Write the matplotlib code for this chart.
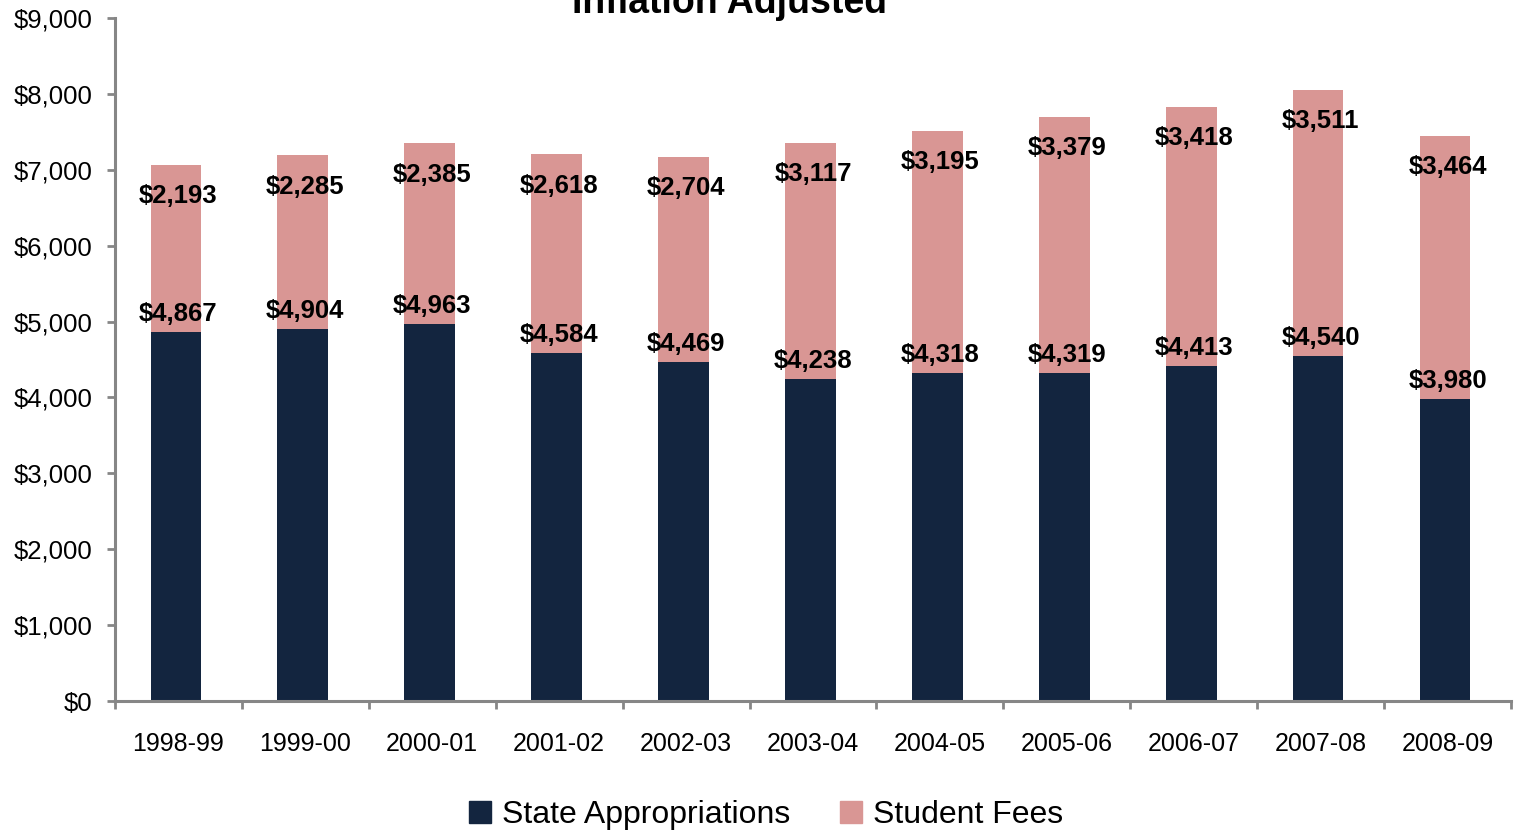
import matplotlib
matplotlib.use("Agg")
import matplotlib.pyplot as plt
from matplotlib.patches import Patch
import numpy as np

years = ["1998-99", "1999-00", "2000-01", "2001-02", "2002-03", "2003-04",
         "2004-05", "2005-06", "2006-07", "2007-08", "2008-09"]
state_appropriations = [4867, 4904, 4963, 4584, 4469, 4238, 4318, 4319, 4413, 4540, 3980]
student_fees = [2193, 2285, 2385, 2618, 2704, 3117, 3195, 3379, 3418, 3511, 3464]
yticks = [0, 1000, 2000, 3000, 4000, 5000, 6000, 7000, 8000, 9000]

navy = "#13253F"
pink = "#D99694"
grey = "#868686"

plt.rcParams['font.family'] = ['Liberation Sans', 'DejaVu Sans']

fig = plt.figure(figsize=(15.17, 8.30), dpi=100)
ax = fig.add_axes([115/1517, 1 - 701/830, (1511 - 115)/1517, (701 - 18)/830])

x = np.arange(len(years))
w = 0.4
ax.bar(x - 0.02, state_appropriations, w, color=navy, label="State Appropriations")
ax.bar(x - 0.02, student_fees, w, bottom=state_appropriations, color=pink, label="Student Fees")

for xi, s, f in zip(x, state_appropriations, student_fees):
    ax.annotate(f"${s:,}", (xi, s), xytext=(0, 13), textcoords="offset points",
                ha="center", va="center", fontsize=18.5, fontweight="bold")
    ax.annotate(f"${f:,}", (xi, s + f), xytext=(0, -22.5), textcoords="offset points",
                ha="center", va="center", fontsize=18.5, fontweight="bold")

ax.set_xlim(-0.5, len(years) - 0.5)
ax.set_ylim(0, 9000)
ax.set_yticks(yticks)
ax.set_yticklabels([f"${v:,}" for v in yticks], fontsize=18.5)
ax.set_xticks(x)
ax.set_xticklabels(years, fontsize=18)
ax.set_xticks(np.arange(-0.5, len(years)), minor=True)
ax.tick_params(axis="x", which="major", length=0, pad=22)
ax.tick_params(axis="x", which="minor", length=6, width=2, color=grey)
ax.tick_params(axis="y", which="major", length=6, width=2, color=grey, pad=10)

for side in ["top", "right"]:
    ax.spines[side].set_visible(False)
for side in ["left", "bottom"]:
    ax.spines[side].set_color(grey)
    ax.spines[side].set_linewidth(2.2)

fig.text(730/1517, 1 - 13/830, "Inflation Adjusted", ha="center", va="baseline",
         fontsize=27, fontweight="bold")

handles = [Patch(color=navy), Patch(color=pink)]
fig.legend(handles, ["State Appropriations", "Student Fees"], loc="center",
           bbox_to_anchor=(766/1517, 1 - 815/830), ncol=2, frameon=False,
           fontsize=23, handlelength=0.7, handleheight=0.7, handletextpad=0.35,
           columnspacing=1.55)

fig.savefig("out.png", dpi=100)
